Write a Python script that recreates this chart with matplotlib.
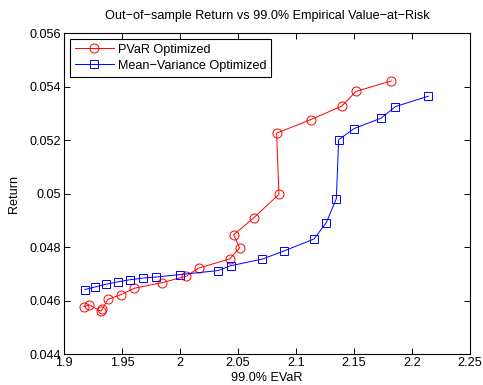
import matplotlib
matplotlib.use('Agg')
import matplotlib.pyplot as plt
from matplotlib.ticker import FuncFormatter

# PVaR optimized portfolios (EVaR, return)
pvar_evar = [1.917, 1.9216, 1.932, 1.933, 1.9377, 1.949, 1.9606, 1.9848, 2.0054,
             2.016, 2.043, 2.0514, 2.0463, 2.0635, 2.0853, 2.0833, 2.1126, 2.1394,
             2.1517, 2.1822]
pvar_ret = [0.04577, 0.04584, 0.0456, 0.04568, 0.04604, 0.04622, 0.04646, 0.04667,
            0.04691, 0.04721, 0.04756, 0.04797, 0.04846, 0.04909, 0.04997, 0.05226,
            0.05276, 0.05327, 0.05382, 0.05421]

# Mean-variance optimized portfolios
mv_evar = [1.9181, 1.927, 1.9365, 1.9468, 1.9572, 1.9684, 1.9796, 2.0, 2.0328,
           2.0437, 2.071, 2.0894, 2.1155, 2.1261, 2.1348, 2.1368, 2.15, 2.1735,
           2.1856, 2.2141]
mv_ret = [0.04641, 0.04651, 0.04661, 0.0467, 0.04678, 0.04684, 0.04688, 0.04697,
          0.04712, 0.0473, 0.04755, 0.04785, 0.0483, 0.04891, 0.04981, 0.05201,
          0.05243, 0.05282, 0.05325, 0.05364]

xticks = [1.9, 1.95, 2.0, 2.05, 2.1, 2.15, 2.2, 2.25]
yticks = [0.044, 0.046, 0.048, 0.05, 0.052, 0.054, 0.056]

plt.rcParams['font.family'] = ['Liberation Sans', 'DejaVu Sans']
plt.rcParams['font.size'] = 9.1

fig = plt.figure(figsize=(4.83, 3.85), dpi=100)
ax = fig.add_axes([0.1325, 0.0805, 0.8405, 0.8335])

ax.plot(pvar_evar, pvar_ret, '-o', color='red', lw=0.7, markersize=6.5,
        markerfacecolor='none', markeredgewidth=0.7, label='PVaR Optimized')
ax.plot(mv_evar, mv_ret, '-s', color='blue', lw=0.7, markersize=5.5,
        markerfacecolor='none', markeredgewidth=0.7, label='Mean\u2212Variance Optimized')

ax.set_xlim(1.9, 2.25)
ax.set_ylim(0.044, 0.056)
ax.set_xticks(xticks)
ax.set_yticks(yticks)
fmt = FuncFormatter(lambda v, p: '%g' % round(v, 4))
ax.xaxis.set_major_formatter(fmt)
ax.yaxis.set_major_formatter(fmt)
ax.tick_params(direction='in', top=True, right=True, length=4, width=0.7, pad=2)
for s in ax.spines.values():
    s.set_linewidth(0.8)

ax.set_title('Out\u2212of\u2212sample Return vs 99.0% Empirical Value\u2212at\u2212Risk',
             fontsize=9.1, pad=10)
ax.set_xlabel('99.0% EVaR', labelpad=2)
ax.set_ylabel('Return', labelpad=7)

leg = ax.legend(loc='upper left', fontsize=9.1, fancybox=False, framealpha=1,
                edgecolor='black', borderpad=0.4, handlelength=3.1, handletextpad=0.3,
                labelspacing=0.3, borderaxespad=0.45)
leg.get_frame().set_linewidth(0.8)

fig.savefig('out.png', dpi=100)
